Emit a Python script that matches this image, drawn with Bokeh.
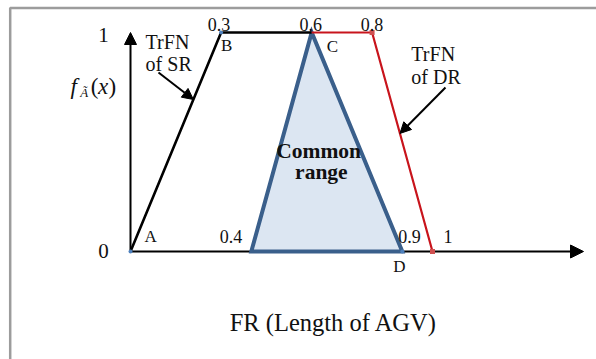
from bokeh.plotting import figure
from bokeh.models import Range1d, Arrow, NormalHead, Label
from bokeh.embed import file_html
from bokeh.resources import INLINE

# Trapezoidal fuzzy numbers (membership breakpoints)
sr_x = [0.0, 0.3, 0.6]          # TrFN of SR: A -> B -> C
sr_y = [0.0, 1.0, 1.0]
dr_x = [0.6, 0.8, 1.0]          # TrFN of DR
dr_y = [1.0, 1.0, 0.0]
common_x = [0.4, 0.6, 0.9]      # common range (triangle)
common_y = [0.0, 1.0, 0.0]

top_ticks = [0.3, 0.6, 0.8]
top_tick_labels = ["0.3", "0.6", "0.8"]
base_ticks = [0.4, 0.9, 1.0]
base_tick_labels = ["0.4", "0.9", "1"]
x_axis_end = 1.5
y_axis_end = 1.0

FONT = "Liberation Serif"
INK = "#111111"

W, H = 596, 359
p = figure(width=W, height=H, output_backend="svg", toolbar_location=None,
           x_range=Range1d(-130 / 302, 466 / 302),
           y_range=Range1d(-108 / 219, 251 / 219),
           min_border=0, x_axis_location=None, y_axis_location=None)
p.outline_line_color = None
p.xgrid.visible = False
p.ygrid.visible = False
p.background_fill_color = "white"
p.border_fill_color = "white"

# thin grey frame along the top and left
fx0 = -120.3 / 302
fy0 = 243.5 / 219
p.line([fx0, fx0, 2.0], [-1.0, fy0, fy0], line_color="#9c9c9c", line_width=2.5)

# axes drawn as arrows beneath the curves
p.add_layout(Arrow(end=NormalHead(size=12, fill_color="black", line_color="black"),
                   x_start=0, y_start=0, x_end=0, y_end=y_axis_end,
                   line_width=2, line_color="black", level="underlay"))
p.add_layout(Arrow(end=NormalHead(size=13, fill_color="black", line_color="black"),
                   x_start=0, y_start=0, x_end=x_axis_end, y_end=0,
                   line_width=2, line_color="black", level="underlay"))

# common range triangle
p.patch(common_x, common_y, fill_color="#dce6f2", line_color="#3a5f8b",
        line_width=4, line_join="miter")

# SR and DR membership functions
p.line(sr_x, sr_y, line_color="black", line_width=2.6)
p.line(dr_x, dr_y, line_color="#c8141c", line_width=2.2)

# series markers
p.scatter(sr_x[:2], sr_y[:2], size=4, marker="circle", fill_color="#4f81bd", line_color=None)
p.scatter(dr_x[1:], dr_y[1:], size=5, marker="square", fill_color="#d05050", line_color=None)
p.scatter(common_x[2:], common_y[2:], size=4, marker="circle", fill_color="#4f81bd", line_color=None)


def label(x, y, text, size, dx=0, dy=0, align="center", style="normal"):
    p.add_layout(Label(x=x, y=y, text=text, x_offset=dx, y_offset=dy,
                       text_font=FONT, text_font_size=f"{size}px", text_color=INK,
                       text_align=align, text_baseline="middle",
                       text_font_style=style))


# y axis values
label(0, y_axis_end, "1", 21, dx=-27, dy=-2)
label(0, 0, "0", 21, dx=-27, dy=1)

# values along the top
for xv, t, dx in zip(top_ticks, top_tick_labels, [-2, -1, 0]):
    label(xv, 1.0, t, 18, dx=dx, dy=8)

# values along the base
label(base_ticks[0], 0, base_tick_labels[0], 18, dx=-9, dy=15, align="right")
label(base_ticks[1], 0, base_tick_labels[1], 18, dx=-4, dy=15, align="left")
label(base_ticks[2], 0, base_tick_labels[2], 18, dx=11, dy=15, align="left")

# point names
label(sr_x[0], sr_y[0], "A", 17, dx=14, dy=15, align="left")
label(sr_x[1], sr_y[1], "B", 17, dx=0, dy=-13, align="left")
label(sr_x[2], sr_y[2], "C", 17, dx=15, dy=-14, align="left")
label(common_x[2], common_y[2], "D", 17, dx=-3, dy=-15)

# series notes
label(0.05, 0.957, "TrFN", 20, align="left")
label(0.05, 0.856, "of SR", 20, align="left")
label(0.930, 0.902, "TrFN", 20, align="left")
label(0.930, 0.795, "of DR", 20, align="left")
label(0.623, 0.461, "Common", 21.5, style="bold")
label(0.632, 0.365, "range", 21.5, style="bold")

# pointer arrows onto the SR and DR sides
sr_level = 0.694
dr_level = 0.539
p.add_layout(Arrow(end=NormalHead(size=11, fill_color="black", line_color="black"),
                   x_start=0.0927, y_start=0.817,
                   x_end=sr_x[1] * sr_level, y_end=sr_level,
                   line_width=2, line_color="black"))
p.add_layout(Arrow(end=NormalHead(size=11, fill_color="black", line_color="black"),
                   x_start=1.043, y_start=0.749,
                   x_end=dr_x[2] - (dr_x[2] - dr_x[1]) * dr_level, y_end=dr_level,
                   line_width=2, line_color="black"))

# y-axis name f_Ã(x)
fy = 0.753
label(-0.199, fy, "f", 23, align="left", style="italic")
label(-0.166, fy, "Ã", 13, dy=-6, align="left", style="italic")
label(-0.132, fy, "(", 23, align="left")
label(-0.108, fy, "x", 23, align="left", style="italic")
label(-0.073, fy, ")", 23, align="left")

# x-axis name
label(0.672, -0.326, "FR (Length of AGV)", 24.5)

open("out.html", "w").write(file_html(p, INLINE))
